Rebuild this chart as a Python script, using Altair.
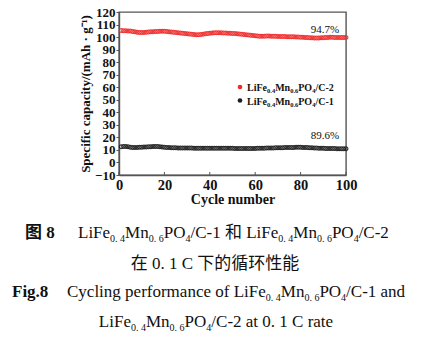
import altair as alt
import pandas as pd

# ---------------- data ----------------
cycles = list(range(1, 101))
c2_capacity = [
    105.2, 105.0, 105.1, 104.9, 104.8, 104.5, 104.2, 103.9, 103.7, 103.6,
    103.6, 103.8, 104.0, 104.2, 104.3, 104.4, 104.5, 104.6, 104.7, 104.6,
    104.4, 104.2, 104.0, 103.8, 103.6, 103.4, 103.2, 103.0, 102.8, 102.6,
    102.4, 102.2, 102.0, 101.9, 101.8, 102.0, 102.3, 102.6, 102.9, 103.1,
    103.3, 103.4, 103.5, 103.5, 103.4, 103.3, 103.2, 103.1, 103.0, 102.9,
    102.8, 102.6, 102.4, 102.2, 102.0, 101.8, 101.6, 101.4, 101.2, 101.0,
    100.8, 100.6, 100.6, 100.7, 100.8, 100.8, 100.7, 100.6, 100.6, 100.5,
    100.5, 100.4, 100.4, 100.3, 100.3, 100.2, 100.2, 100.1, 100.0, 99.9,
    99.8, 99.7, 99.6, 99.5, 99.4, 99.3, 99.3, 99.3, 99.4, 99.5,
    99.6, 99.7, 99.8, 99.8, 99.7, 99.7, 99.6, 99.6, 99.6, 99.6,
]
c1_capacity = [
    12.6, 12.8, 12.7, 12.5, 12.2, 12.0, 11.9, 12.0, 12.1, 12.2,
    12.3, 12.4, 12.5, 12.6, 12.7, 12.8, 12.7, 12.5, 12.3, 12.1,
    12.0, 11.9, 11.8, 11.7, 11.7, 11.6, 11.6, 11.6, 11.5, 11.5,
    11.5, 11.5, 11.4, 11.4, 11.4, 11.4, 11.3, 11.3, 11.3, 11.3,
    11.3, 11.3, 11.3, 11.3, 11.3, 11.3, 11.3, 11.3, 11.3, 11.3,
    11.2, 11.2, 11.2, 11.2, 11.2, 11.2, 11.2, 11.2, 11.2, 11.2,
    11.3, 11.3, 11.4, 11.4, 11.5, 11.5, 11.6, 11.6, 11.7, 11.7,
    11.8, 11.8, 11.9, 11.9, 12.0, 12.0, 12.0, 12.1, 12.1, 12.1,
    12.0, 12.0, 11.9, 11.8, 11.7, 11.6, 11.5, 11.4, 11.3, 11.3,
    11.2, 11.2, 11.1, 11.1, 11.1, 11.0, 11.0, 11.0, 11.0, 11.0,
]
retention_labels = ["94.7%", "89.6%"]
retention_x = [90.7, 90.7]
retention_y = [103.3, 18.7]
legend_x = [53.3, 53.3]
legend_y = [60.2, 49.4]
legend_colors = ["#f02a2a", "#1e1e1e"]
y_ticks = list(range(-10, 121, 10))
x_ticks = list(range(0, 101, 20))

# text pieces (kind: r regular, s subscript, b bold, bs bold subscript, c CJK, cb CJK bold)
legend_c2 = [("LiFe", "b"), ("0.4", "bs"), ("Mn", "b"), ("0.6", "bs"), ("PO", "b"), ("4", "bs"), ("/C-2", "b")]
legend_c1 = [("LiFe", "b"), ("0.4", "bs"), ("Mn", "b"), ("0.6", "bs"), ("PO", "b"), ("4", "bs"), ("/C-1", "b")]
cap1_head = [("图", "cb"), (" 8", "b")]
cap1_body = [("LiFe", "r"), ("0. 4", "s"), ("Mn", "r"), ("0. 6", "s"), ("PO", "r"), ("4", "s"), ("/C-1 ", "r"),
             ("和", "c"), (" LiFe", "r"), ("0. 4", "s"), ("Mn", "r"), ("0. 6", "s"), ("PO", "r"), ("4", "s"), ("/C-2", "r")]
cap2 = [("在", "c"), (" 0. 1 C ", "r"), ("下的循环性能", "c")]
cap3_head = [("Fig.8", "b")]
cap3_body = [("Cycling performance of LiFe", "r"), ("0. 4", "s"), ("Mn", "r"), ("0. 6", "s"), ("PO", "r"), ("4", "s"),
             ("/C-1 and", "r")]
cap4 = [("LiFe", "r"), ("0. 4", "s"), ("Mn", "r"), ("0. 6", "s"), ("PO", "r"), ("4", "s"), ("/C-2 at 0. 1 C rate", "r")]

# ---------------- layout helpers ----------------
REG = {" ": 250, ".": 250, "/": 278, "-": 333, "%": 833, "C": 667, "F": 556, "L": 611, "M": 889, "O": 722,
       "P": 556, "a": 444, "c": 444, "d": 500, "e": 444, "f": 333, "g": 500, "i": 278, "l": 278, "m": 778,
       "n": 500, "o": 500, "p": 500, "r": 333, "t": 278, "y": 500}
BOLD = {" ": 250, ".": 250, "/": 278, "-": 333, "C": 722, "F": 611, "L": 667, "M": 944, "O": 778, "P": 611,
        "e": 444, "g": 500, "i": 278, "n": 556}
FONTKEY = {"r": "serif", "s": "serif", "b": "serifb", "bs": "serifb", "c": "cjk", "cb": "cjkb"}
SERIF = "Liberation Serif"
AXIS_GRAY = "#555"

PLOT_L, PLOT_T = 119, 12
PLOT_W, PLOT_H = 227, 163


def seg_size(kind, main, sub):
    return sub if kind in ("s", "bs") else main


def text_w(text, kind, size):
    if kind in ("c", "cb"):
        return size * len(text)
    table = BOLD if kind in ("b", "bs") else REG
    return sum(table.get(ch, 500) for ch in text) * size / 1000.0


def layout(segs, x, base, main, sub, drop, anchor="left"):
    total = sum(text_w(t, k, seg_size(k, main, sub)) for t, k in segs)
    cx = x - total / 2 if anchor == "center" else x
    rows = []
    for t, k in segs:
        fs = seg_size(k, main, sub)
        lead = len(t) - len(t.lstrip(" "))
        cur = cx + text_w(" " * lead, k, fs)
        if t.strip():
            rows.append({"t": t.strip(), "px": cur - PLOT_L,
                         "py": base - PLOT_T + (drop if k in ("s", "bs") else 0),
                         "fs": fs, "font": FONTKEY[k]})
        cx += text_w(t, k, fs)
    return rows


rows = []
rows += layout(legend_c2, 247, 90.5, 10, 6.5, 2.5)
rows += layout(legend_c1, 247, 104.5, 10, 6.5, 2.5)
rows += layout(cap1_head, 25, 238, 17, 10, 4)
rows += layout(cap1_body, 78, 238, 17, 10, 4)
rows += layout(cap2, 215, 269, 17, 10, 4, "center")
rows += layout(cap3_head, 12, 297, 17, 10, 4)
rows += layout(cap3_body, 67, 297, 17, 10, 4)
rows += layout(cap4, 216, 327, 17, 10, 4, "center")
text_df = pd.DataFrame(rows)

FONTS = {"serif": (SERIF, "normal"), "serifb": (SERIF, "bold"),
         "cjk": ("Noto Sans CJK SC", "normal"), "cjkb": ("Noto Sans CJK SC", "bold")}

# ---------------- chart ----------------
data = pd.DataFrame({"cycle": cycles * 2,
                     "cap": c2_capacity + c1_capacity,
                     "series": ["C-2"] * len(cycles) + ["C-1"] * len(cycles)})

axis_common = dict(
    grid=False, labelFont=SERIF, labelFontWeight="bold", labelColor="#111",
    titleFont=SERIF, titleFontWeight="bold", titleColor="#111", labelOverlap=False, labelFlush=False,
    domainColor=AXIS_GRAY, domainWidth=1.4, tickColor=AXIS_GRAY,
)
x_axis = alt.Axis(values=x_ticks, title="Cycle number", titleFontSize=14, titlePadding=1,
                  labelFontSize=14.5, ticks=False, labelPadding=3, **axis_common)
y_axis = alt.Axis(values=y_ticks, title="Specific capacity/(mAh · g⁻¹)", titleFontSize=13,
                  titlePadding=2, labelFontSize=13, tickSize=3, labelPadding=1, **axis_common)
x_scale = alt.Scale(domain=[0, 100], nice=False)
y_scale = alt.Scale(domain=[-10, 120], nice=False)
x_enc = alt.X("cycle:Q", scale=x_scale, axis=x_axis)
y_enc = alt.Y("cap:Q", scale=y_scale, axis=y_axis)

red = alt.Chart(data).transform_filter(alt.datum.series == "C-2").mark_point(
    shape="circle", filled=False, size=14, strokeWidth=1.2, color="#f02a2a", opacity=0.9
).encode(x=x_enc, y=y_enc)
black = alt.Chart(data).transform_filter(alt.datum.series == "C-1").mark_point(
    shape="circle", filled=False, size=14, strokeWidth=1.2, color="#1e1e1e", opacity=0.9
).encode(x=x_enc, y=y_enc)

# inward x ticks
xtick_df = pd.DataFrame({"cycle": x_ticks})
xticks = alt.Chart(xtick_df).mark_rule(color=AXIS_GRAY, strokeWidth=1).encode(
    x=x_enc, y=alt.value(PLOT_H), y2=alt.value(PLOT_H - 3))

ann_df = pd.DataFrame({"cycle": retention_x, "cap": retention_y, "label": retention_labels})
ann = alt.Chart(ann_df).mark_text(font=SERIF, fontSize=11, align="center",
                                  baseline="alphabetic", color="#111").encode(
    x=x_enc, y=y_enc, text="label:N")

leg_df = pd.DataFrame({"cycle": legend_x, "cap": legend_y, "col": legend_colors})
leg_pts = alt.Chart(leg_df).mark_point(shape="circle", filled=True, size=22, opacity=1).encode(
    x=x_enc, y=y_enc, color=alt.Color("col:N", scale=None))

layers = [red, black, xticks, ann, leg_pts]
for key, (fname, fweight) in FONTS.items():
    sub_df = text_df[text_df["font"] == key]
    if len(sub_df) == 0:
        continue
    layers.append(
        alt.Chart(sub_df).mark_text(font=fname, fontWeight=fweight, align="left",
                                    baseline="alphabetic", color="#111").encode(
            x=alt.X("px:Q", scale=None, axis=None),
            y=alt.Y("py:Q", scale=None, axis=None),
            text="t:N",
            size=alt.Size("fs:Q", scale=None, legend=None),
        )
    )

chart = alt.layer(*layers).properties(
    width=PLOT_W, height=PLOT_H,
    autosize=alt.AutoSizeParams(type="none"),
    padding={"left": PLOT_L, "top": PLOT_T, "right": 428 - PLOT_L - PLOT_W, "bottom": 351 - PLOT_T - PLOT_H},
    background="white",
).configure_view(stroke=AXIS_GRAY, strokeWidth=1.4)

chart.save("out.html", embed_options={"renderer": "svg", "actions": False})
